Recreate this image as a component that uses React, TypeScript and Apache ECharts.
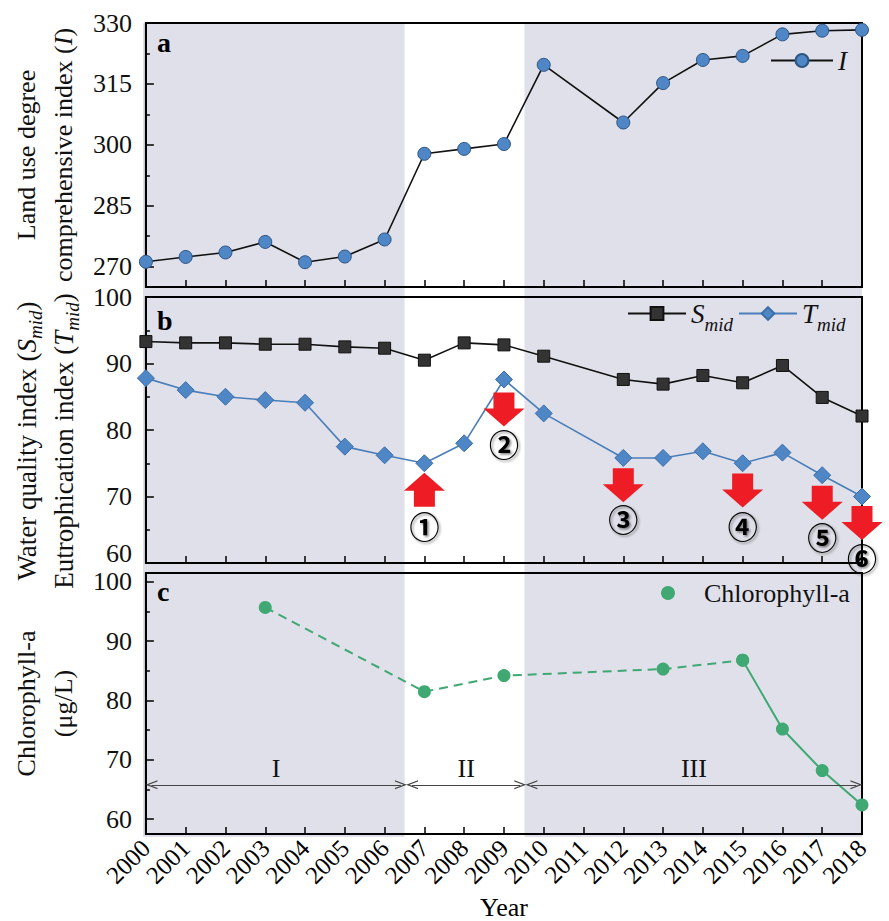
import React, { useEffect, useRef } from "react";
import * as echarts from "echarts";

// ---------- data ----------
const years = [2000, 2001, 2002, 2003, 2004, 2005, 2006, 2007, 2008, 2009, 2010, 2011, 2012, 2013, 2014, 2015, 2016, 2017, 2018];
const yearLabels = years.map((y) => String(y));

const obsYears = [2000, 2001, 2002, 2003, 2004, 2005, 2006, 2007, 2008, 2009, 2010, 2012, 2013, 2014, 2015, 2016, 2017, 2018];
const landIndex = [271.2, 272.4, 273.5, 276.1, 271.1, 272.5, 276.7, 297.8, 299.0, 300.2, 319.7, 305.5, 315.2, 320.9, 321.9, 327.2, 328.1, 328.3];
const sMid = [93.3, 93.1, 93.1, 92.9, 92.9, 92.5, 92.3, 90.5, 93.1, 92.8, 91.1, 87.6, 86.9, 88.2, 87.1, 89.7, 84.9, 82.1];
const tMid = [87.8, 86.0, 85.0, 84.5, 84.1, 77.5, 76.2, 75.0, 78.0, 87.6, 82.5, 75.8, 75.8, 76.8, 75.0, 76.6, 73.2, 70.0];

const chlYears = [2003, 2007, 2009, 2013, 2015, 2016, 2017, 2018];
const chlValues = [95.7, 81.5, 84.2, 85.3, 86.8, 75.2, 68.2, 62.4];
const chlSolidFrom = 2015;

const periodNames = ["I", "II", "III"];
const periodStarts = [2000, 2006.55, 2009.55];
const periodEnds = [2006.55, 2009.55, 2018];
const shadedPeriods = [0, 2];
const periodArrowLevel = 65.8;

const landRange = [265, 330];
const landTicks = [270, 285, 300, 315, 330];
const landMinor = [277.5, 292.5, 307.5, 322.5];
const waterRange = [60, 100];
const waterTicks = [60, 70, 80, 90, 100];
const waterMinor = [65, 75, 85, 95];
const chlRange = [57.5, 101.5];
const chlTicks = [60, 70, 80, 90, 100];
const chlMinor = [65, 75, 85, 95];

const eventLabels = ["①", "②", "③", "④", "⑤", "⑥"];
const eventYears = [2007, 2009, 2012, 2015, 2017, 2018];
const eventDirections = ["up", "down", "down", "down", "down", "down"];
const eventArrowValues = [71.0, 83.1, 71.7, 70.9, 69.05, 66.0];
const eventLabelValues = [65.7, 78.0, 66.7, 65.7, 64.0, 60.9];

// ---------- styles ----------
const SERIF = "'Liberation Serif', 'Times New Roman', serif";
const SHADE = "#e0e0ea";
const BLUE = "#4f86c6";
const GREEN = "#3fa873";
const RED = "#ee1c24";

const L = 143;
const W = 719;
const panels = [
  { top: 23, height: 264 },
  { top: 297, height: 266 },
  { top: 573, height: 264 },
];

const ARROW_DOWN = "path://M10,0 L31,0 L31,16 L41,16 L20.5,34 L0,16 L10,16 Z";
const ARROW_UP = "path://M20.5,0 L41,18 L31,18 L31,34 L10,34 L10,18 L0,18 Z";
const CHEVRON = "path://M0,10 L5,0 L10,10 L8.6,10 L5,2.8 L1.4,10 Z";
const arrowInset = 0.14;

function richName(size: number, subSize: number) {
  return {
    i: { fontStyle: "italic", fontFamily: SERIF, fontSize: size, lineHeight: 37, color: "#111" },
    sub: { fontStyle: "italic", fontFamily: SERIF, fontSize: subSize, lineHeight: 21, verticalAlign: "bottom", color: "#111" },
  };
}

function xAxisFor(gridIndex: number, showLabels: boolean) {
  return {
    type: "value",
    gridIndex,
    min: 2000,
    max: 2018,
    interval: 1,
    axisLine: { show: true, onZero: false, lineStyle: { color: "#000", width: 2 } },
    axisTick: { show: true, inside: true, length: 7, lineStyle: { color: "#000", width: 1.5 } },
    axisLabel: showLabels
      ? {
          show: true,
          rotate: 45,
          fontSize: 25,
          fontFamily: SERIF,
          color: "#000",
          margin: 10,
          formatter: (v: number) => {
            const k = years.indexOf(Math.round(v));
            return k >= 0 ? yearLabels[k] : "";
          },
        }
      : { show: false },
    splitLine: { show: false },
    name: showLabels ? "Year" : "",
    nameLocation: "middle",
    nameGap: 60,
    nameTextStyle: { fontFamily: SERIF, fontSize: 26, color: "#000" },
  };
}

function yMain(
  gridIndex: number,
  range: number[],
  ticks: number[],
  name: string,
  nameGap: number,
  nameSize: number,
  subSize: number,
  namePadding: number[],
  fmt?: any
) {
  return {
    type: "value",
    gridIndex,
    position: "left",
    min: range[0],
    max: range[1],
    axisLine: { show: true, onZero: false, lineStyle: { color: "#000", width: 2 } },
    axisTick: { show: true, inside: true, length: 8, customValues: ticks, lineStyle: { color: "#000", width: 1.5 } },
    axisLabel: {
      show: true,
      customValues: ticks,
      fontSize: 26,
      fontFamily: SERIF,
      color: "#111",
      margin: 14,
      formatter: fmt || ((v: number) => String(v)),
      rich: { up: { fontSize: 26, fontFamily: SERIF, color: "#111", padding: [0, 0, 20, 0] } },
    },
    splitLine: { show: false },
    name,
    nameLocation: "middle",
    nameRotate: 90,
    nameGap,
    nameTextStyle: {
      fontFamily: SERIF,
      fontSize: nameSize,
      color: "#111",
      lineHeight: 37,
      padding: namePadding,
      rich: richName(nameSize, subSize),
    },
  };
}

function yMinor(gridIndex: number, range: number[], minor: number[]) {
  return {
    type: "value",
    gridIndex,
    position: "left",
    min: range[0],
    max: range[1],
    axisLine: { show: false },
    axisLabel: { show: false },
    splitLine: { show: false },
    axisTick: { show: true, inside: true, length: 4, customValues: minor, lineStyle: { color: "#000", width: 1.5 } },
  };
}

const legendRich = {
  it: { fontStyle: "italic", fontFamily: SERIF, fontSize: 27, lineHeight: 40, color: "#111" },
  sub: { fontStyle: "italic", fontFamily: SERIF, fontSize: 19, lineHeight: 18, verticalAlign: "bottom", color: "#111" },
  p: { fontFamily: SERIF, fontSize: 26, color: "#111", padding: [0, 0, 0, 24] },
};

function legendName(name: string) {
  if (name === "I") return "{it|I}";
  if (name === "S_mid") return "{it|S}{sub|mid}";
  if (name === "T_mid") return "{it|T}{sub|mid}";
  return "{p|" + name + "}";
}

function buildOption() {
  const pairs = (xs: number[], vs: number[]) => xs.map((x, i) => [x, vs[i]]);
  const chlDashed = pairs(chlYears, chlValues).filter((p) => p[0] <= chlSolidFrom);
  const chlSolid = pairs(chlYears, chlValues).filter((p) => p[0] >= chlSolidFrom);

  const eventMarks: any[] = [];
  eventYears.forEach((y, i) => {
    eventMarks.push({
      coord: [y, eventArrowValues[i]],
      symbol: eventDirections[i] === "up" ? ARROW_UP : ARROW_DOWN,
      symbolSize: [41, 34],
      itemStyle: { color: RED },
      label: { show: false },
    });
    eventMarks.push({
      coord: [y, eventLabelValues[i]],
      symbol: "circle",
      symbolSize: 1,
      itemStyle: { color: "rgba(0,0,0,0)" },
      label: {
        show: true,
        position: "inside",
        formatter: eventLabels[i],
        fontSize: 30,
        fontWeight: "bold",
        fontFamily: "'Noto Sans CJK JP', 'DejaVu Sans', sans-serif",
        color: "#000",
        textShadowColor: "rgba(0,0,0,0.5)",
        textShadowBlur: 2,
        textShadowOffsetX: 1.5,
        textShadowOffsetY: 1.5,
      },
    });
  });

  return {
    animation: false,
    backgroundColor: "#fff",
    grid: [
      ...panels.map((p) => ({
        left: L,
        width: W,
        top: p.top,
        height: p.height,
        show: true,
        borderColor: "#000",
        borderWidth: 2,
        backgroundColor: "transparent",
      })),
      { left: L, width: W, top: panels[0].top, height: panels[2].top + panels[2].height - panels[0].top, show: false },
    ],
    xAxis: [
      xAxisFor(0, false),
      xAxisFor(1, false),
      xAxisFor(2, true),
      { type: "value", gridIndex: 3, min: 2000, max: 2018, show: false },
    ],
    yAxis: [
      yMain(0, landRange, landTicks, "Land use degree\ncomprehensive index ({i|I})", 60, 26, 17, [0, 0, 0, 0]),
      yMinor(0, landRange, landMinor),
      yMain(
        1,
        waterRange,
        waterTicks,
        "Water quality index ({i|S}{sub|mid})\nEutrophication index ({i|T}{sub|mid})",
        60,
        27,
        19,
        [0, 22, 0, 0],
        (v: number) => (v === 60 ? "{up|60}" : String(v))
      ),
      yMinor(1, waterRange, waterMinor),
      yMain(2, chlRange, chlTicks, "Chlorophyll-a\n(μg/L)", 60, 26, 17, [0, 0, 0, 0]),
      yMinor(2, chlRange, chlMinor),
      { type: "value", gridIndex: 3, min: 0, max: 1, show: false },
    ],
    legend: [
      {
        data: ["I"],
        left: 770,
        top: 47,
        padding: 0,
        itemWidth: 62,
        itemHeight: 16,
        formatter: legendName,
        textStyle: { fontFamily: SERIF, fontSize: 26, color: "#111", rich: legendRich },
        selectedMode: false,
      },
      {
        data: ["S_mid", "T_mid"],
        left: 627,
        top: 300,
        padding: 0,
        itemGap: 5,
        itemWidth: 58,
        itemHeight: 16,
        formatter: legendName,
        textStyle: { fontFamily: SERIF, fontSize: 26, color: "#111", rich: legendRich },
        selectedMode: false,
      },
      {
        data: [{ name: "Chlorophyll-a", icon: "circle" }],
        left: 661,
        top: 580,
        padding: 0,
        itemWidth: 14,
        itemHeight: 14,
        formatter: legendName,
        textStyle: { fontFamily: SERIF, fontSize: 26, color: "#111", rich: legendRich },
        selectedMode: false,
      },
    ],
    graphic: [
      { type: "text", left: 157, top: panels[0].top + 5, style: { text: "a", font: "bold 28px " + SERIF, fill: "#000" } },
      { type: "text", left: 157, top: panels[1].top + 9, style: { text: "b", font: "bold 28px " + SERIF, fill: "#000" } },
      { type: "text", left: 157, top: panels[2].top + 4, style: { text: "c", font: "bold 28px " + SERIF, fill: "#000" } },
    ],
    series: [
      {
        name: "background",
        type: "line",
        xAxisIndex: 3,
        yAxisIndex: 6,
        data: [],
        silent: true,
        z: -1,
        markArea: {
          silent: true,
          z: -1,
          itemStyle: { color: SHADE },
          label: { show: false },
          data: shadedPeriods.map((k) => [{ xAxis: periodStarts[k] }, { xAxis: periodEnds[k] }]),
        },
      },
      {
        name: "I",
        type: "line",
        xAxisIndex: 0,
        yAxisIndex: 0,
        data: pairs(obsYears, landIndex),
        symbol: "circle",
        symbolSize: 13,
        itemStyle: { color: BLUE, borderColor: "#2f5583", borderWidth: 1 },
        lineStyle: { color: "#111", width: 1.6 },
        clip: false,
      },
      {
        name: "S_mid",
        type: "line",
        xAxisIndex: 1,
        yAxisIndex: 2,
        data: pairs(obsYears, sMid),
        symbol: "rect",
        symbolSize: 12,
        itemStyle: { color: "#333", borderColor: "#111", borderWidth: 1 },
        lineStyle: { color: "#111", width: 1.6 },
        clip: false,
      },
      {
        name: "T_mid",
        type: "line",
        xAxisIndex: 1,
        yAxisIndex: 2,
        data: pairs(obsYears, tMid),
        symbol: "diamond",
        symbolSize: 17,
        itemStyle: { color: BLUE, borderColor: "#3b6ea8", borderWidth: 1 },
        lineStyle: { color: "#4a7ebb", width: 1.6 },
        clip: false,
        markPoint: { silent: true, z: 6, data: eventMarks },
      },
      {
        name: "Chlorophyll-a",
        type: "line",
        xAxisIndex: 2,
        yAxisIndex: 4,
        data: chlDashed,
        symbol: "circle",
        symbolSize: 13,
        itemStyle: { color: GREEN },
        lineStyle: { color: GREEN, width: 2, type: [9, 6] },
        clip: false,
      },
      {
        name: "Chlorophyll-a",
        type: "line",
        xAxisIndex: 2,
        yAxisIndex: 4,
        data: chlSolid,
        symbol: "circle",
        symbolSize: 13,
        itemStyle: { color: GREEN },
        lineStyle: { color: GREEN, width: 2 },
        clip: false,
      },
      {
        name: "periods",
        type: "line",
        xAxisIndex: 2,
        yAxisIndex: 4,
        data: [],
        silent: true,
        markLine: {
          silent: true,
          symbol: [CHEVRON, CHEVRON],
          symbolSize: [9, 12],
          lineStyle: { color: "#444", width: 1, type: "solid" },
          label: {
            show: true,
            position: "insideMiddleTop",
            formatter: "{b}",
            fontSize: 26,
            fontFamily: SERIF,
            color: "#111",
            distance: 3,
          },
          data: periodNames.map((n, k) => [
            { name: n, coord: [periodStarts[k] + arrowInset, periodArrowLevel] },
            { coord: [periodEnds[k] - arrowInset, periodArrowLevel] },
          ]),
        },
      },
    ],
  };
}

export default function App() {
  const ref = useRef<HTMLDivElement>(null);
  useEffect(() => {
    document.body.style.margin = "0";
    const chart = echarts.init(ref.current!, null, { renderer: "svg" });
    chart.setOption(buildOption() as any);
    return () => chart.dispose();
  }, []);
  return <div ref={ref} style={{ width: 889, height: 921 }} />;
}
